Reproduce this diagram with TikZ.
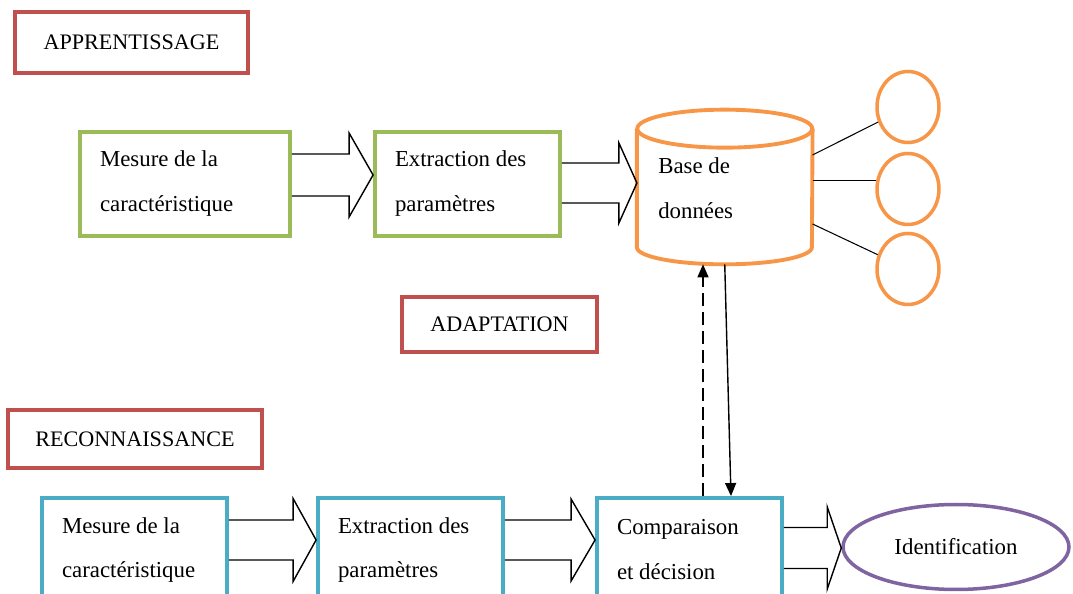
\documentclass[tikz,border=0pt]{standalone}
\usepackage{fontspec}
\setmainfont{Liberation Serif}
\usepackage{tikz}
\usetikzlibrary{arrows.meta,calc,shapes.geometric}

\definecolor{apred}{HTML}{C0504D}
\definecolor{apgreen}{HTML}{9BBB59}
\definecolor{aporange}{HTML}{F79646}
\definecolor{apblue}{HTML}{4BACC6}
\definecolor{appurple}{HTML}{8064A2}

\newcommand{\boxfont}{\fontsize{13}{25.6}\selectfont}
\newcommand{\tagfont}{\fontsize{12.6}{15}\selectfont}

\newcommand{\blockarrow}[6]{%
  \draw[blk] ($(#1.east |- 0,#3)+(0,-#4)$) -- ($(#2.west |- 0,#3)+(-#6,-#4)$)
    -- ($(#2.west |- 0,#3)+(-#6,-#5)$) -- (#2.west |- 0,#3)
    -- ($(#2.west |- 0,#3)+(-#6,#5)$) -- ($(#2.west |- 0,#3)+(-#6,#4)$)
    -- ($(#1.east |- 0,#3)+(0,#4)$);}

\begin{document}
\begin{tikzpicture}[
  x=0.02cm, y=-0.02cm,
  box/.style={draw, line width=2.2pt, align=flush left, font=\boxfont,
              inner xsep=0.4cm, inner ysep=0pt, minimum height=2.08cm},
  learn/.style={box, draw=apgreen},
  recog/.style={box, draw=apblue},
  tag/.style={draw=apred, line width=2pt, font=\tagfont, inner sep=0pt},
  blob/.style={ellipse, draw=aporange, line width=2pt, inner sep=0pt,
               minimum width=1.24cm, minimum height=1.42cm},
  dbline/.style={draw=aporange, line width=2.2pt},
  blk/.style={line width=0.8pt, line join=miter},
  link/.style={line width=0.6pt},
  ar/.style={-{Triangle[length=0.26cm,width=0.22cm]}, line width=0.8pt},
  dar/.style={ar, dash pattern=on 0.26cm off 0.12cm}
]
\clip (0,0) rectangle (1073,594);

\node[tag, minimum width=4.66cm, minimum height=1.22cm] (apprent) at (131.5,42.5)
  {APPRENTISSAGE};
\node[tag, minimum width=3.9cm, minimum height=1.1cm] (adapt) at (499.5,324.5)
  {ADAPTATION};
\node[tag, minimum width=5.08cm, minimum height=1.16cm] (reconn) at (135,439)
  {RECONNAISSANCE};

\node[learn, text width=3.4cm] (meas1) at (185,184)
  {Mesure de la\\caractéristique};
\node[learn, text width=2.9cm] (ext1) at (467.5,184)
  {Extraction des\\paramètres};

\node[align=flush left, font=\boxfont, inner xsep=0.42cm, inner ysep=0pt,
      text width=2.66cm, minimum height=2.36cm] (db) at (724.75,188)
  {Base de\\données};
\draw[dbline] (db.north) ellipse [x radius=1.75cm, y radius=0.38cm];
\draw[dbline] (db.north west) -- (db.south west)
  arc [start angle=180, end angle=360, x radius=1.75cm, y radius=0.34cm]
  -- (db.north east);
\coordinate (dbbase) at ([yshift=-0.34cm]db.south);

\node[blob] (c1) at (908,107) {};
\node[blob] (c2) at (908,189) {};
\node[blob] (c3) at (908,269) {};

\node[recog, text width=2.9cm] (meas2) at (134.5,550)
  {Mesure de la\\caractéristique};
\node[recog, text width=2.9cm] (ext2) at (410.5,550)
  {Extraction des\\paramètres};
\node[recog, text width=2.9cm] (cmp) at (689.5,550)
  {Comparaison\\et décision};
\node[ellipse, draw=appurple, line width=2pt, font=\boxfont,
      minimum width=4.52cm, minimum height=1.7cm] (ident) at (956,547)
  {Identification};

\blockarrow{meas1}{ext1}{175}{21}{42}{24}
\blockarrow{ext1}{db}{183}{20}{40}{18}
\blockarrow{meas2}{ext2}{540}{20}{41.5}{23}
\blockarrow{ext2}{cmp}{540}{20}{41}{24}
\blockarrow{cmp}{ident}{548}{20.5}{41}{14}

\draw[link] (db.east |- 0,155) -- (c1);
\draw[link] (db.east |- c2.165) -- (c2.165);
\draw[link] (db.east |- 0,224) -- (c3);

\draw[dar] (cmp.north -| 703,0) -- (dbbase -| 703,0);
\draw[ar] (dbbase) -- (cmp.north -| 731,0);

\end{tikzpicture}
\end{document}
